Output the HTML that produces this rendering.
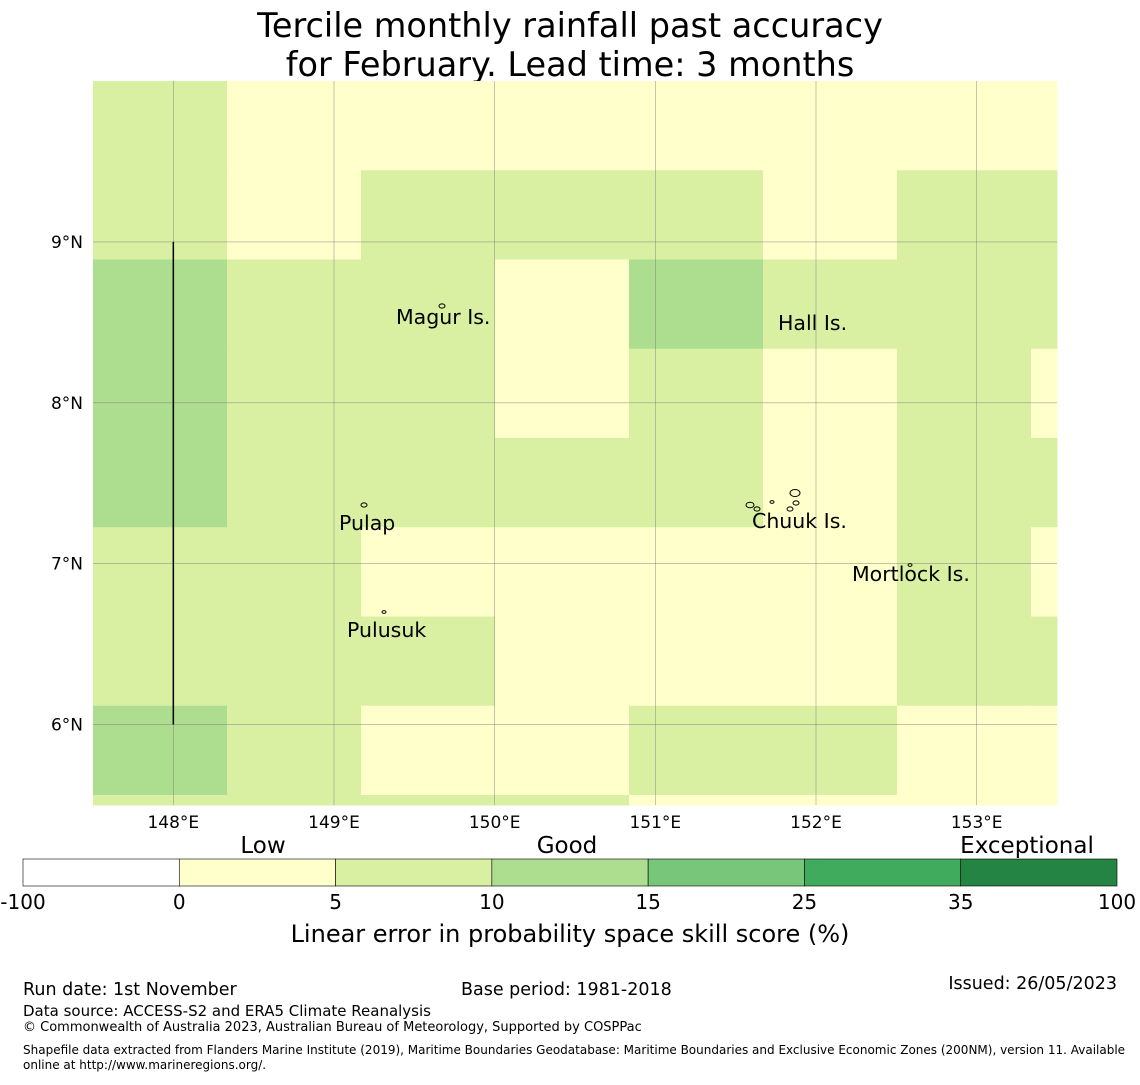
<!DOCTYPE html>
<html><head><meta charset="utf-8"><style>
body{margin:0;background:#fff;width:1140px;height:1080px;overflow:hidden;font-family:"Liberation Sans","DejaVu Sans",sans-serif}
svg text{font-family:"DejaVu Sans","Liberation Sans",sans-serif}
</style></head><body>
<svg id="s" width="1140" height="1080" xmlns="http://www.w3.org/2000/svg">
<text x="570" y="37" font-size="33.5" text-anchor="middle">Tercile monthly rainfall past accuracy</text>
<text x="570" y="76" font-size="33.5" text-anchor="middle">for February. Lead time: 3 months</text>
<g id="map"></g>
<g id="cb"></g>
<text x="570" y="942" font-size="24" text-anchor="middle">Linear error in probability space skill score (%)</text>
<text x="23" y="995" font-size="17.5">Run date: 1st November</text>
<text x="461" y="995" font-size="17.5">Base period: 1981-2018</text>
<text x="1117" y="989" font-size="17.5" text-anchor="end">Issued: 26/05/2023</text>
<text x="23" y="1016" font-size="15">Data source: ACCESS-S2 and ERA5 Climate Reanalysis</text>
<text x="23" y="1031" font-size="13">© Commonwealth of Australia 2023, Australian Bureau of Meteorology, Supported by COSPPac</text>
<text x="23" y="1054" font-size="12">Shapefile data extracted from Flanders Marine Institute (2019), Maritime Boundaries Geodatabase: Maritime Boundaries and Exclusive Economic Zones (200NM), version 11. Available</text>
<text x="23" y="1069" font-size="12">online at http://www.marineregions.org/.</text>
</svg>
<script>
const NS="http://www.w3.org/2000/svg";
// grid skill values (rows top->bottom, cols left->right)
const gridRow0=[7,2,2,2,2,2,2,2];
const gridRow1=[7,2,7,7,7,2,7,7];
const gridRow2=[12,7,7,2,12,7,7,7];
const gridRow3=[12,7,7,2,7,2,7,2];
const gridRow4=[12,7,7,7,7,2,7,7];
const gridRow5=[7,7,2,2,2,2,7,2];
const gridRow6=[7,7,7,2,2,2,7,7];
const gridRow7=[12,7,2,2,7,7,2,2];
const gridRow8=[7,7,7,7,2,2,2,2];
const grid=[gridRow0,gridRow1,gridRow2,gridRow3,gridRow4,gridRow5,gridRow6,gridRow7,gridRow8];
const binEdges=[-100,0,5,10,15,25,35,100];
const binColors=["#ffffff","#ffffcc","#d9f0a3","#addd8e","#78c679","#41ab5d","#238443"];
const lonTicks=[148,149,150,151,152,153];
const latTicks=[9,8,7,6];
const lon0=147.5,lon1=153.5,lat0=5.5,lat1=10.0;
const X0=93,X1=1057,Y0=81,Y1=805;
const xs=l=>X0+(l-lon0)*(X1-X0)/(lon1-lon0);
const ys=l=>Y1-(l-lat0)*(Y1-Y0)/(lat1-lat0);
const cellW=134,cellH=89.25;
function col(v){for(let i=0;i<binColors.length;i++)if(v<binEdges[i+1])return binColors[i];return binColors[binColors.length-1];}
function mk(t,a,p){const e=document.createElementNS(NS,t);for(const k in a)e.setAttribute(k,a[k]);(p||document.getElementById('map')).appendChild(e);return e;}
grid.forEach((row,r)=>row.forEach((v,c)=>{
 const x=X0+c*cellW,y=Y0+r*cellH;
 const e=mk('rect',{x:x,y:y,width:Math.min(cellW,X1-x)+0.5,height:Math.min(cellH,Y1-y)+0.5,fill:col(v)});
 
 
}));
lonTicks.forEach(l=>{
 const x=xs(l);
 const g=mk('line',{x1:x,x2:x,y1:Y0,y2:Y1,stroke:'#777',"stroke-width":0.6,"stroke-opacity":0.7});
 
 
 const t=mk('text',{x:x,y:828,"font-size":17,"text-anchor":"middle"});t.textContent=l+'°E';
 
 
});
latTicks.forEach(l=>{
 const y=ys(l);
 const g=mk('line',{x1:X0,x2:X1,y1:y,y2:y,stroke:'#777',"stroke-width":0.6,"stroke-opacity":0.7});
 
 
 const t=mk('text',{x:83,y:y+6,"font-size":17,"text-anchor":"end"});t.textContent=l+'°N';
 
 
});
const bl=mk('line',{x1:xs(148),x2:xs(148),y1:ys(9),y2:ys(6),stroke:'#000',"stroke-width":1.5});


const labels=[["Magur Is.",396,324],["Hall Is.",778,330],["Pulap",339,530],["Chuuk Is.",752,528],["Mortlock Is.",852,581],["Pulusuk",347,637]];
labels.forEach(([n,x,y])=>{const t=mk('text',{x:x,y:y,"font-size":20.5});t.textContent=n;
 
 });
const isl=[[442,306,3],[364,505,3],[384,612,2],[750,505,4],[757,509,3],[772,502,2],[790,509,3],[795,493,5],[796,503,3],[910,565,2]];
isl.forEach(([x,y,r])=>{const e=mk('ellipse',{cx:x,cy:y,rx:r,ry:r*0.7,fill:'none',stroke:'#000',"stroke-width":1});
 
 });
const cb=document.getElementById('cb');
const cbX0=23,cbX1=1117,segW=(cbX1-cbX0)/binColors.length;
binColors.forEach((c,i)=>{const e=mk('rect',{x:cbX0+i*segW,y:859,width:segW,height:27,fill:c,stroke:'#000',"stroke-width":0.6},cb);
 
 });
binEdges.forEach((v,i)=>{const t=mk('text',{x:cbX0+i*segW,y:909,"font-size":20,"text-anchor":"middle"},cb);t.textContent=v;
 
 });
[["Low",263],["Good",567],["Exceptional",1027]].forEach(([n,x])=>{const t=mk('text',{x:x,y:853,"font-size":23,"text-anchor":"middle"},cb);t.textContent=n;
 
 });
</script>
</body></html>
